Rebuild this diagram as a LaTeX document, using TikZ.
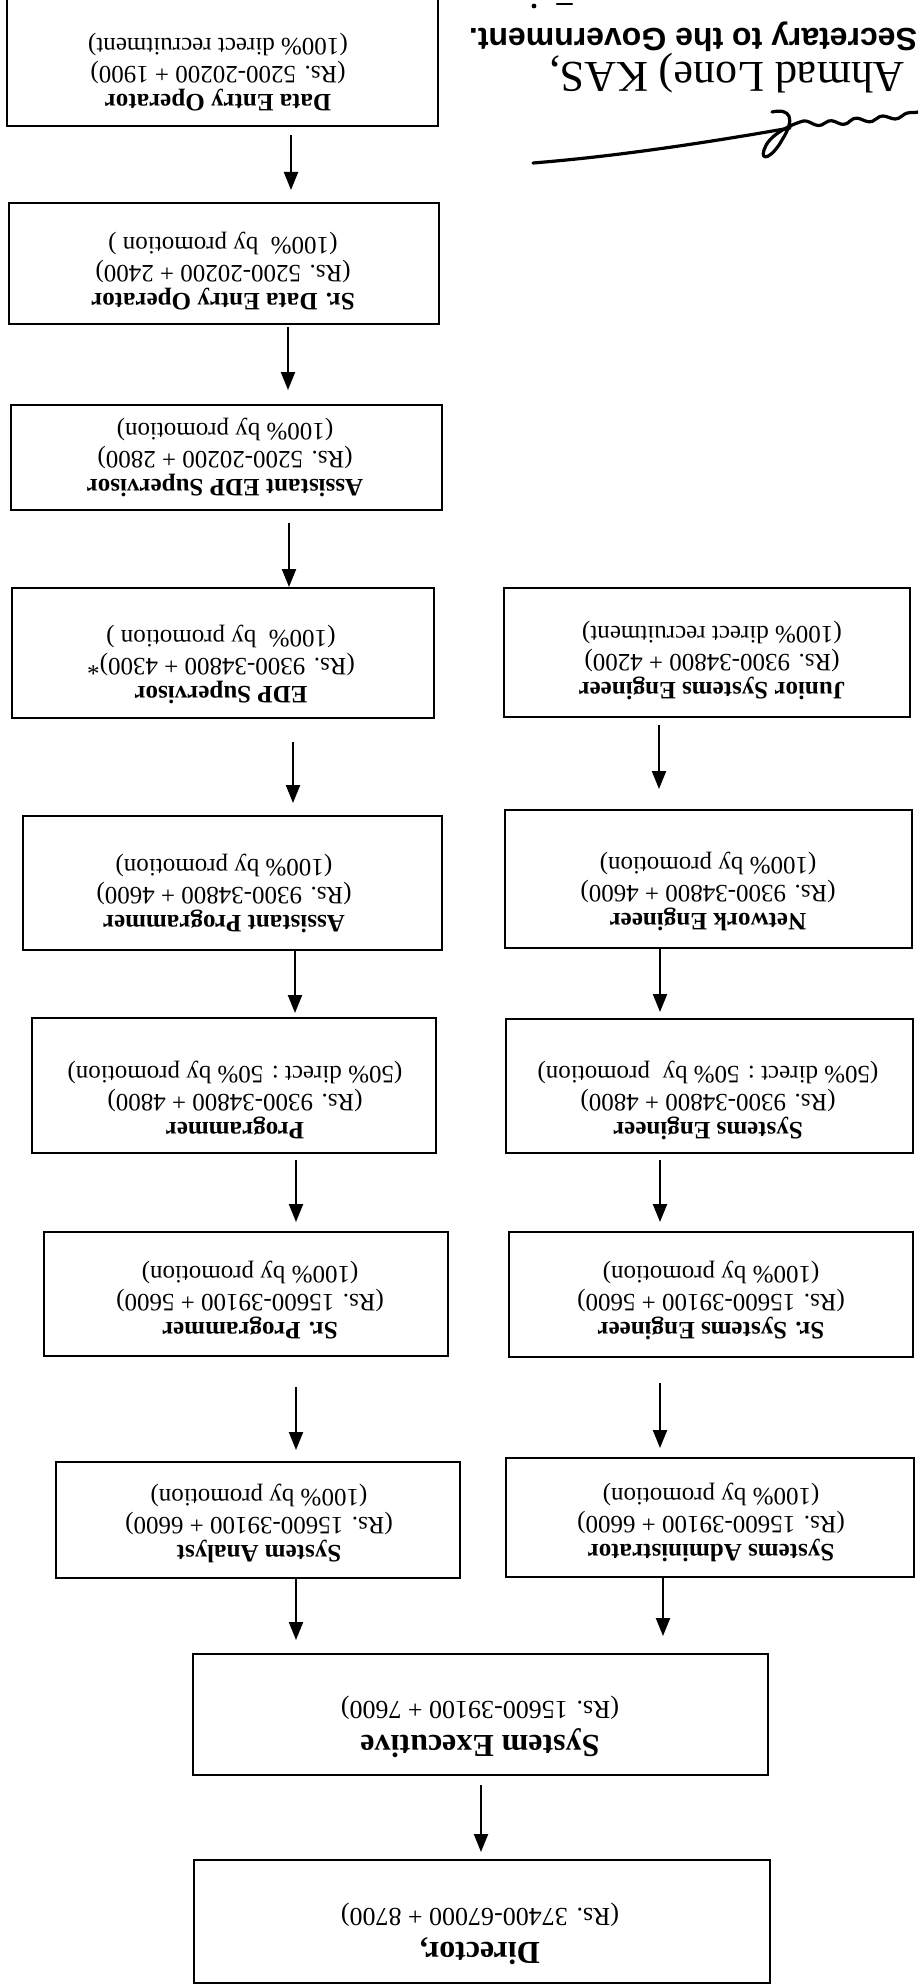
\documentclass[tikz,border=0pt]{standalone}
\usepackage{fontspec}
\setmainfont{Liberation Serif}
\newfontfamily\secfont{Liberation Sans}
\usetikzlibrary{arrows.meta}
\begin{document}
\begin{tikzpicture}[x=0.5pt,y=-0.5pt,
  box/.style={draw=black, line width=1.3pt, rectangle, inner sep=0pt, outer sep=0pt},
  lbl/.style={rotate=180, align=center, inner sep=0pt, font=\fontsize{12.5}{14}\selectfont},
  biglbl/.style={rotate=180, align=center, inner sep=0pt, font=\fontsize{13}{17}\selectfont},
  arr/.style={line width=1.1pt, -{Triangle[length=9pt,width=7pt]}},
  sig/.style={line width=1.6pt, line cap=round, line join=round}]
\useasboundingbox (0,0) rectangle (918,1985);
\clip (0,0) rectangle (918,1985);
\fill[white] (0,0) rectangle (918,1985);

% ---------- left column boxes ----------
\node[box, minimum width=215.5pt, minimum height=68pt] (b1) at (222.5,58) {};
\node[lbl] (t1) at (218,72) {\textbf{Data Entry Operator}\\(Rs. 5200-20200 + 1900)\\(100\% direct recruitment)};

\node[box, minimum width=215pt, minimum height=60.5pt] (b2) at (224,263.5) {};
\node[lbl] (t2) at (223,271) {\textbf{Sr. Data Entry Operator}\\(Rs. 5200-20200 + 2400)\\(100\%\ \ by promotion )};

\node[box, minimum width=215.5pt, minimum height=52.5pt] (b3) at (226.5,457.5) {};
\node[lbl] (t3) at (225,457) {\textbf{Assistant EDP Supervisor}\\(Rs. 5200-20200 + 2800)\\(100\% by promotion)};

\node[box, minimum width=211pt, minimum height=65pt] (b4) at (223,653) {};
\node[lbl] (t4) at (221,664) {\textbf{EDP Supervisor}\\(Rs. 9300-34800 + 4300)*\\(100\%\ \ by promotion )};

\node[box, minimum width=209.5pt, minimum height=67pt] (b5) at (232.5,883) {};
\node[lbl] (t5) at (224,893) {\textbf{Assistant Programmer}\\(Rs. 9300-34800 + 4600)\\(100\% by promotion)};

\node[box, minimum width=202pt, minimum height=67.5pt] (b6) at (234,1085.5) {};
\node[lbl] (t6) at (235,1100) {\textbf{Programmer}\\(Rs. 9300-34800 + 4800)\\(50\% direct : 50\% by promotion)};

\node[box, minimum width=202pt, minimum height=62pt] (b7) at (246,1294) {};
\node[lbl] (t7) at (250,1300) {\textbf{Sr. Programmer}\\(Rs. 15600-39100 + 5600)\\(100\% by promotion)};

\node[box, minimum width=202pt, minimum height=58pt] (b8) at (258,1520) {};
\node[lbl] (t8) at (259,1523) {\textbf{System Analyst}\\(Rs. 15600-39100 + 6600)\\(100\% by promotion)};

% ---------- right column boxes ----------
\node[box, minimum width=203pt, minimum height=64.5pt] (r1) at (707,652.5) {};
\node[lbl] (s1) at (712,661) {\textbf{Junior Systems Engineer}\\(Rs. 9300-34800 + 4200)\\(100\% direct recruitment)};

\node[box, minimum width=203.5pt, minimum height=69pt] (r2) at (708.5,879) {};
\node[lbl] (s2) at (708,891) {\textbf{Network Engineer}\\(Rs. 9300-34800 + 4600)\\(100\% by promotion)};

\node[box, minimum width=203.5pt, minimum height=67pt] (r3) at (709.5,1086) {};
\node[lbl] (s3) at (708,1100) {\textbf{Systems Engineer}\\(Rs. 9300-34800 + 4800)\\(50\% direct : 50\% by\ \ promotion)};

\node[box, minimum width=202pt, minimum height=62.5pt] (r4) at (711,1294.5) {};
\node[lbl] (s4) at (711,1300) {\textbf{Sr. Systems Engineer}\\(Rs. 15600-39100 + 5600)\\(100\% by promotion)};

\node[box, minimum width=204pt, minimum height=59.5pt] (r5) at (710,1517.5) {};
\node[lbl] (s5) at (711,1522) {\textbf{Systems Administrator}\\(Rs. 15600-39100 + 6600)\\(100\% by promotion)};

% ---------- bottom boxes ----------
\node[box, minimum width=287.5pt, minimum height=60.5pt] (se) at (480.5,1714.5) {};
\node[biglbl] (tse) at (480,1727) {{\fontsize{16}{17}\selectfont\bfseries System Executive}\\(Rs. 15600-39100 + 7600)};

\node[box, minimum width=288pt, minimum height=61.5pt] (dir) at (482,1921.5) {};
\node[biglbl] (tdir) at (480,1934) {{\fontsize{16}{17}\selectfont\bfseries Director,}\\(Rs. 37400-67000 + 8700)};

% ---------- arrows ----------
\coordinate (a1s) at (291,135);  \coordinate (a1e) at (291,190);
\coordinate (a2s) at (288,327);  \coordinate (a2e) at (288,390);
\coordinate (a3s) at (289,523);  \coordinate (a3e) at (289,587);
\coordinate (a4s) at (293,742);  \coordinate (a4e) at (293,803);
\coordinate (a5s) at (295,950);  \coordinate (a5e) at (295,1013);
\coordinate (a6s) at (296,1160); \coordinate (a6e) at (296,1222);
\coordinate (a7s) at (296,1387); \coordinate (a7e) at (296,1450);
\coordinate (a8s) at (296,1578); \coordinate (a8e) at (296,1640);
\coordinate (c1s) at (659,725);  \coordinate (c1e) at (659,789);
\coordinate (c2s) at (660,948);  \coordinate (c2e) at (660,1012);
\coordinate (c3s) at (660,1160); \coordinate (c3e) at (660,1222);
\coordinate (c4s) at (660,1383); \coordinate (c4e) at (660,1448);
\coordinate (c5s) at (663,1577); \coordinate (c5e) at (663,1636);
\coordinate (d1s) at (481,1785); \coordinate (d1e) at (481,1852);
\foreach \p in {a1,a2,a3,a4,a5,a6,a7,a8,c1,c2,c3,c4,c5,d1}
  \draw[arr] (\p s) -- (\p e);

% ---------- signature block ----------
\node[rotate=180, inner sep=0pt, font=\secfont\bfseries\fontsize{16}{18}\selectfont] (sec) at (693,37) {Secretary to the Government.};
\node[rotate=180, inner sep=0pt, font=\fontsize{22}{25}\selectfont] (nam) at (727,73) {Ahmad Lone) KAS,};
\draw[sig] (533,163) .. controls (620,156) and (710,142) .. (790,128);
\draw[sig] (772,112) .. controls (790,108) and (796,118) .. (782,140)
  .. controls (772,158) and (760,162) .. (764,150)
  .. controls (768,136) and (788,126) .. (800,122)
  .. controls (810,117) and (815,131) .. (825,123)
  .. controls (835,115) and (840,131) .. (850,121)
  .. controls (860,112) and (866,128) .. (876,119)
  .. controls (886,110) and (892,125) .. (902,116)
  .. controls (909,110) and (913,114) .. (918,112);
\draw[line width=1.2pt, line cap=round] (557,4) -- (572,4);
\fill (534,6) circle (1.2pt);
\end{tikzpicture}
\end{document}
